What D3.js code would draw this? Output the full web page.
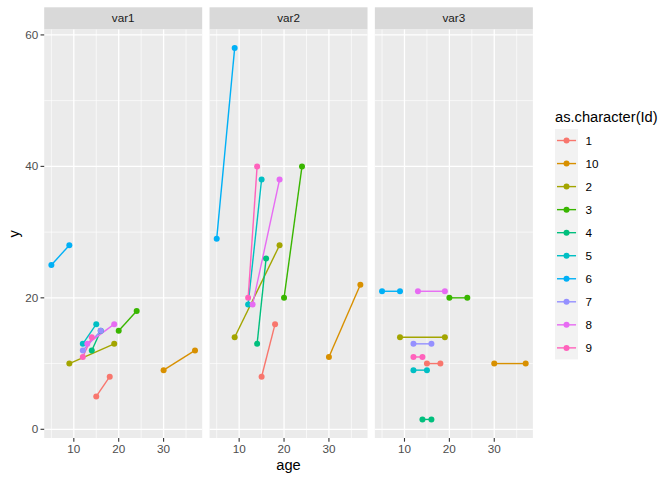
<!DOCTYPE html>
<html>
<head>
<meta charset="utf-8">
<script src="https://cdn.jsdelivr.net/npm/d3@7"></script>
<style>
  body { margin: 0; background: #fff; }
  text { font-family: "Liberation Sans", Arial, sans-serif; }
</style>
</head>
<body>
<div id="chart"></div>
<script>
// facets and groups, in ggplot's level order
let facets = ['var1', 'var2', 'var3']
let ids = ['1', '10', '2', '3', '4', '5', '6', '7', '8', '9']
let colors = ['#F8766D', '#D89000', '#A3A500', '#39B600', '#00BF7D', '#00BFC4', '#00B0F6', '#9590FF', '#E76BF3', '#FF62BC']

// two visits per Id: age at each visit
let ages = [[15, 18], [30, 37], [9, 19], [20, 24], [14, 16], [12, 15], [5, 9], [12, 16], [13, 19], [12, 14]]

// y value at each visit, one array per facet (null = missing)
let yVar1 = [[5, 8], [9, 12], [10, 13], [15, 18], [12, 15], [13, 16], [25, 28], [12, 15], [13, 16], [11, 14]]
let yVar2 = [[8, 16], [11, 22], [14, 28], [20, 40], [13, 26], [19, 38], [29, 58], null, [19, 38], [20, 40]]
let yVar3 = [[10, 10], [10, 10], [14, 14], [20, 20], [1.5, 1.5], [9, 9], [21, 21], [13, 13], [21, 21], [11, 11]]

let xTicks = [10, 20, 30]
let xMinor = [5, 15, 25, 35]
let yTicks = [0, 20, 40, 60]
let yMinor = [10, 30, 50]

let yByFacet = [yVar1, yVar2, yVar3]

// layout
var width = 672
var height = 480
var panelLeft = 44.2
var panelW = 158
var panelGap = 7.33
var stripTop = 7.3
var panelTop = 29.5
var panelBottom = 438

var svg = d3.select('#chart')
  .append('svg')
  .attr('width', width)
  .attr('height', height)

// shared scales with ggplot's 5% expansion
var allAges = ages.flat()
var allY = yByFacet.flat().filter(d => d !== null).flat()
var xMin = d3.min(allAges), xMax = d3.max(allAges)
var yMin = d3.min(allY), yMax = d3.max(allY)
var xPad = (xMax - xMin) * 0.05
var yPad = (yMax - yMin) * 0.05

var x = d3.scaleLinear()
  .domain([xMin - xPad, xMax + xPad])
  .range([0, panelW])

var y = d3.scaleLinear()
  .domain([yMin - yPad, yMax + yPad])
  .range([panelBottom, panelTop])

facets.forEach(function (facet, fi) {
  var left = panelLeft + fi * (panelW + panelGap)
  var g = svg.append('g').attr('transform', 'translate(' + left + ',0)')

  // strip
  g.append('rect')
    .attr('x', 0).attr('y', stripTop)
    .attr('width', panelW).attr('height', panelTop - stripTop)
    .attr('fill', '#D9D9D9')
  g.append('text')
    .attr('x', panelW / 2).attr('y', (stripTop + panelTop) / 2)
    .attr('dy', '0.35em')
    .attr('text-anchor', 'middle')
    .attr('font-size', '11.7px')
    .attr('fill', '#1A1A1A')
    .text(facet)

  // panel background
  g.append('rect')
    .attr('x', 0).attr('y', panelTop)
    .attr('width', panelW).attr('height', panelBottom - panelTop)
    .attr('fill', '#EBEBEB')

  // grid
  g.selectAll('line.ymin').data(yMinor).enter().append('line')
    .attr('x1', 0).attr('x2', panelW)
    .attr('y1', d => y(d)).attr('y2', d => y(d))
    .attr('stroke', '#fff').attr('stroke-width', 0.65)
  g.selectAll('line.xmin').data(xMinor).enter().append('line')
    .attr('y1', panelTop).attr('y2', panelBottom)
    .attr('x1', d => x(d)).attr('x2', d => x(d))
    .attr('stroke', '#fff').attr('stroke-width', 0.65)
  g.selectAll('line.ymaj').data(yTicks).enter().append('line')
    .attr('x1', 0).attr('x2', panelW)
    .attr('y1', d => y(d)).attr('y2', d => y(d))
    .attr('stroke', '#fff').attr('stroke-width', 1.3)
  g.selectAll('line.xmaj').data(xTicks).enter().append('line')
    .attr('y1', panelTop).attr('y2', panelBottom)
    .attr('x1', d => x(d)).attr('x2', d => x(d))
    .attr('stroke', '#fff').attr('stroke-width', 1.3)

  // x axis ticks + labels
  g.selectAll('line.xtick').data(xTicks).enter().append('line')
    .attr('x1', d => x(d)).attr('x2', d => x(d))
    .attr('y1', panelBottom).attr('y2', panelBottom + 3.67)
    .attr('stroke', '#333333').attr('stroke-width', 1.1)
  g.selectAll('text.xlab').data(xTicks).enter().append('text')
    .attr('x', d => x(d)).attr('y', panelBottom + 14.5)
    .attr('text-anchor', 'middle')
    .attr('font-size', '11.7px')
    .attr('fill', '#4D4D4D')
    .text(d => d)

  // build groups for this facet
  var yv = yByFacet[fi]
  var groups = ids.map(function (id, i) {
    if (yv[i] === null) return null
    return { id: id, color: colors[i], pts: ages[i].map((a, k) => ({ age: a, val: yv[i][k] })) }
  }).filter(d => d !== null)

  var line = d3.line().x(d => x(d.age)).y(d => y(d.val))

  // lines first, then points (ggplot layer order)
  g.selectAll('path.grp').data(groups).enter().append('path')
    .attr('d', d => line(d.pts))
    .attr('fill', 'none')
    .attr('stroke', d => d.color)
    .attr('stroke-width', 1.4)

  groups.forEach(function (gr) {
    g.selectAll(null).data(gr.pts).enter().append('circle')
      .attr('cx', d => x(d.age))
      .attr('cy', d => y(d.val))
      .attr('r', 3)
      .attr('fill', gr.color)
  })
})

// y axis on the first panel
svg.selectAll('line.ytick').data(yTicks).enter().append('line')
  .attr('x1', panelLeft - 3.67).attr('x2', panelLeft)
  .attr('y1', d => y(d)).attr('y2', d => y(d))
  .attr('stroke', '#333333').attr('stroke-width', 1.1)
svg.selectAll('text.ylab').data(yTicks).enter().append('text')
  .attr('x', panelLeft - 6).attr('y', d => y(d))
  .attr('dy', '0.35em')
  .attr('text-anchor', 'end')
  .attr('font-size', '11.7px')
  .attr('fill', '#4D4D4D')
  .text(d => d)

// axis titles
var panelsRight = panelLeft + 3 * panelW + 2 * panelGap
svg.append('text')
  .attr('x', (panelLeft + panelsRight) / 2).attr('y', 470)
  .attr('text-anchor', 'middle')
  .attr('font-size', '14.67px')
  .attr('fill', '#000')
  .text('age')
svg.append('text')
  .attr('transform', 'translate(19,' + (panelTop + panelBottom) / 2 + ') rotate(-90)')
  .attr('text-anchor', 'middle')
  .attr('font-size', '14.67px')
  .attr('fill', '#000')
  .text('y')

// legend
var legX = 555
var legTop = 129
var keySize = 23.04
var legend = svg.append('g')
legend.append('text')
  .attr('x', legX).attr('y', 122)
  .attr('font-size', '14.67px')
  .attr('fill', '#000')
  .text('as.character(Id)')
legend.append('rect')
  .attr('x', legX).attr('y', legTop)
  .attr('width', keySize).attr('height', keySize * ids.length)
  .attr('fill', '#F2F2F2')

var keys = legend.selectAll('g.key').data(ids).enter().append('g')
  .attr('transform', (d, i) => 'translate(' + legX + ',' + (legTop + i * keySize) + ')')
keys.append('line')
  .attr('x1', 2).attr('x2', keySize - 2)
  .attr('y1', keySize / 2).attr('y2', keySize / 2)
  .attr('stroke', (d, i) => colors[i]).attr('stroke-width', 1.4)
keys.append('circle')
  .attr('cx', keySize / 2).attr('cy', keySize / 2).attr('r', 3)
  .attr('fill', (d, i) => colors[i])
keys.append('text')
  .attr('x', keySize + 7.5).attr('y', keySize / 2)
  .attr('dy', '0.35em')
  .attr('font-size', '11.7px')
  .attr('fill', '#000')
  .text(d => d)
</script>
</body>
</html>
